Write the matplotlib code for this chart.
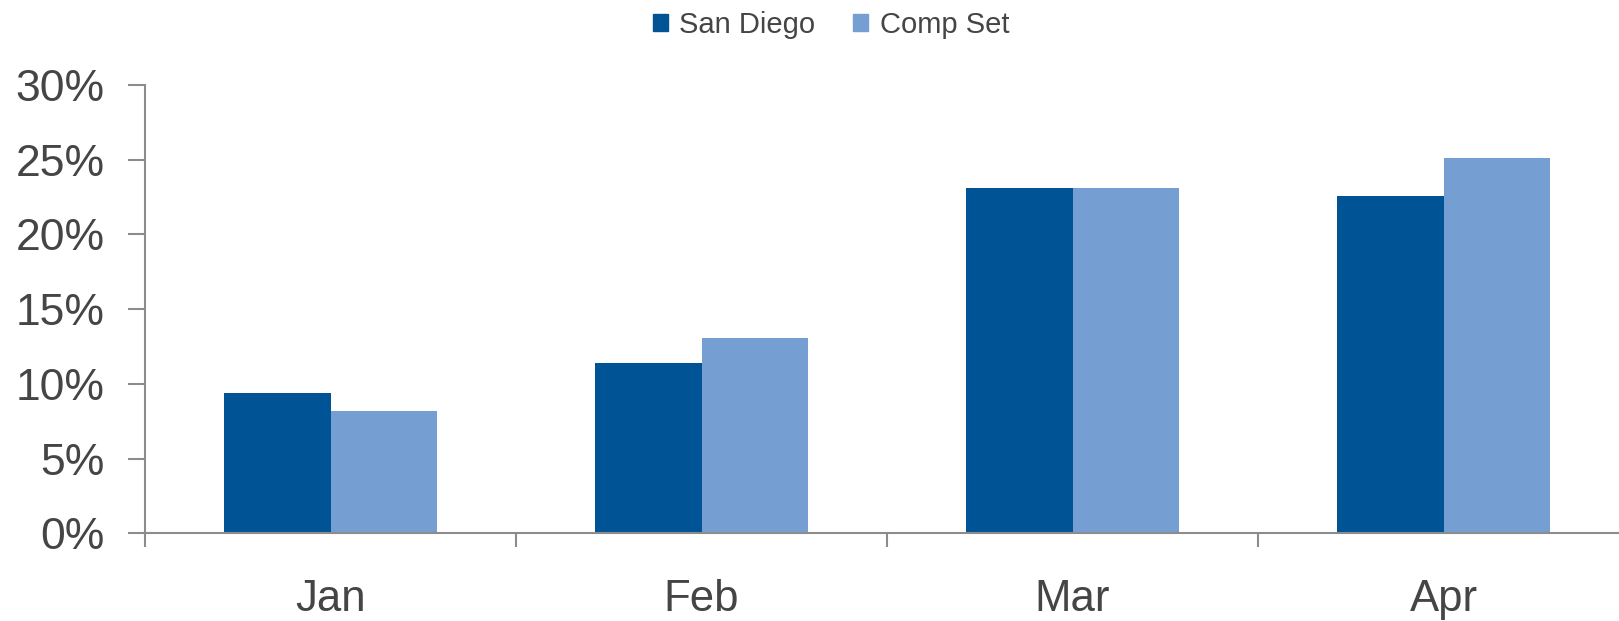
import matplotlib.pyplot as plt
import numpy as np
from matplotlib.patches import Patch
from matplotlib.ticker import FixedLocator

months = ["Jan", "Feb", "Mar", "Apr"]
series_names = ["San Diego", "Comp Set"]
san_diego = [9.4, 11.4, 23.1, 22.6]
comp_set = [8.2, 13.1, 23.1, 25.1]
yticks = [0, 5, 10, 15, 20, 25, 30]
ytick_labels = ["0%", "5%", "10%", "15%", "20%", "25%", "30%"]

dark = "#005495"
light = "#759ED2"
grey = "#8c8c8c"
txt = "#454545"

plt.rcParams['font.family'] = ['Liberation Sans', 'DejaVu Sans']

fig = plt.figure(figsize=(16.19, 6.21), dpi=100)
ax = fig.add_axes([145/1619, 1-533.3/621, (1629-145)/1619, (533.3-85)/621])

x = np.arange(len(months))
w = 0.287
ax.bar(x - w/2, san_diego, width=w, color=dark, label=series_names[0], zorder=2)
ax.bar(x + w/2, comp_set, width=w, color=light, label=series_names[1], zorder=2)

ax.set_xlim(-0.5, len(months) - 0.5)
ax.set_ylim(0, 30)

for s in ["top", "right"]:
    ax.spines[s].set_visible(False)
for s in ["left", "bottom"]:
    ax.spines[s].set_color(grey)
    ax.spines[s].set_linewidth(1.5)

ax.set_yticks(yticks)
ax.set_yticklabels(ytick_labels)
ax.tick_params(axis='y', direction='out', length=12.2, width=1.5, color=grey,
               pad=17, labelsize=32, labelcolor=txt)

ax.set_xticks(x)
ax.set_xticklabels(months)
ax.tick_params(axis='x', which='major', length=0, pad=33, labelsize=31.5, labelcolor=txt)
ax.xaxis.set_minor_locator(FixedLocator(np.arange(0, len(months)) - 0.5))
ax.tick_params(axis='x', which='minor', direction='out', length=10, width=1.5, color=grey)

handles = [Patch(color=dark), Patch(color=light)]
fig.legend(handles, series_names, loc='center', bbox_to_anchor=(831/1619, 1-25/621),
           ncol=2, frameon=False, fontsize=21, handlelength=0.5, handleheight=0.5,
           handletextpad=0.4, columnspacing=1.3, labelcolor=txt)

fig.savefig("out.png", dpi=100)
